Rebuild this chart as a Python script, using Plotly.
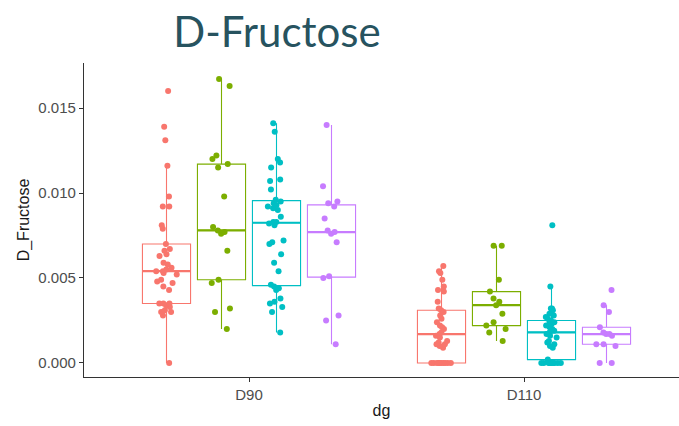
import numpy as np
import plotly.graph_objects as go

# x-axis categories (dg) and the four colour groups within each
days = ["D90", "D110"]
group_colors = ["#F8766D", "#7CAE00", "#00BFC4", "#C77CFF"]

# D_Fructose measurements, one list per day x group
d90_g1 = [0.0000, 0.0028, 0.0030, 0.0030, 0.0031, 0.0033, 0.0034, 0.0035, 0.0035,
          0.0035, 0.0043, 0.0045, 0.0047, 0.0048, 0.0049, 0.0052, 0.0053, 0.0054,
          0.0054, 0.0055, 0.0056, 0.0058, 0.0059, 0.0063, 0.0064, 0.0066, 0.0067,
          0.0070, 0.0079, 0.0081, 0.0092, 0.0092, 0.0098, 0.0116, 0.0131, 0.0139,
          0.0160]
d90_g2 = [0.0020, 0.0030, 0.0032, 0.0047, 0.0049, 0.0066, 0.0076, 0.0077, 0.0078,
          0.0080, 0.0098, 0.0115, 0.0117, 0.0120, 0.0122, 0.0163, 0.0167]
d90_g3 = [0.0018, 0.0030, 0.0033, 0.0035, 0.0036, 0.0038, 0.0043, 0.0044, 0.0045,
          0.0046, 0.0054, 0.0059, 0.0064, 0.0070, 0.0071, 0.0072, 0.0081, 0.0082,
          0.0083, 0.0083, 0.0086, 0.0090, 0.0091, 0.0092, 0.0093, 0.0094, 0.0095,
          0.0096, 0.0102, 0.0107, 0.0108, 0.0115, 0.0118, 0.0120, 0.0136, 0.0141]
d90_g4 = [0.0011, 0.0025, 0.0028, 0.0050, 0.0051, 0.0071, 0.0076, 0.0077, 0.0078,
          0.0085, 0.0092, 0.0094, 0.0095, 0.0104, 0.0140]

d110_g1 = [0.0000, 0.0000, 0.0000, 0.0000, 0.0000, 0.0000, 0.0000, 0.0000, 0.0000,
           0.0000, 0.0009, 0.0010, 0.0011, 0.0011, 0.0012, 0.0013, 0.0015, 0.0016,
           0.0017, 0.0018, 0.0020, 0.0021, 0.0022, 0.0024, 0.0026, 0.0028, 0.0030,
           0.0031, 0.0032, 0.0036, 0.0042, 0.0043, 0.0045, 0.0049, 0.0053, 0.0054,
           0.0057]
d110_g2 = [0.0013, 0.0018, 0.0020, 0.0022, 0.0024, 0.0029, 0.0034, 0.0036, 0.0038,
           0.0042, 0.0049, 0.0069, 0.0069]
d110_g3 = [0.0000, 0.0000, 0.0000, 0.0000, 0.0000, 0.0000, 0.0000, 0.0000, 0.0000,
           0.0002, 0.0009, 0.0010, 0.0011, 0.0012, 0.0013, 0.0015, 0.0016, 0.0017,
           0.0018, 0.0019, 0.0019, 0.0020, 0.0021, 0.0022, 0.0023, 0.0024, 0.0024,
           0.0025, 0.0026, 0.0027, 0.0028, 0.0029, 0.0031, 0.0032, 0.0032, 0.0045,
           0.0081]
d110_g4 = [0.0000, 0.0000, 0.0010, 0.0011, 0.0011, 0.0016, 0.0017, 0.0017, 0.0018,
           0.0021, 0.0030, 0.0034, 0.0043]

series = {
    "D90": [d90_g1, d90_g2, d90_g3, d90_g4],
    "D110": [d110_g1, d110_g2, d110_g3, d110_g4],
}

# dodge layout: four boxes per category
offsets = [-0.3, -0.1, 0.1, 0.3]
box_w = 0.175

fig = go.Figure()
for di, day in enumerate(days):
    for gi, vals in enumerate(series[day]):
        xpos = di + 1 + offsets[gi]
        col = group_colors[gi]
        fig.add_trace(go.Box(
            x=[xpos] * len(vals), y=vals, width=box_w,
            boxpoints="all", jitter=0.5, pointpos=0,
            quartilemethod="inclusive",
            fillcolor="white",
            line=dict(color=col, width=1.1),
            marker=dict(color=col, size=6, line=dict(width=0)),
            whiskerwidth=0, showlegend=False, hoverinfo="y",
        ))
        med = float(np.median(vals))
        fig.add_trace(go.Scatter(
            x=[xpos - box_w / 2, xpos + box_w / 2], y=[med, med],
            mode="lines", line=dict(color=col, width=2.2),
            showlegend=False, hoverinfo="skip",
        ))

base_font = "Liberation Sans, Arial, sans-serif"
tick_font = dict(family=base_font, size=15, color="#4D4D4D")
title_font = dict(family=base_font, size=16, color="#1A1A1A")

fig.update_layout(
    width=679, height=426,
    margin=dict(l=84, r=0, t=63, b=49),
    paper_bgcolor="white", plot_bgcolor="white",
    title=dict(text="D-Fructose", x=277 / 679, xanchor="center",
               y=1 - 32 / 426, yanchor="middle",
               font=dict(family="Lato, Open Sans, sans-serif", size=42, color="#27535F")),
    xaxis=dict(
        range=[0.4, 1 + (679 - 249) / 275], tickvals=[1, 2], ticktext=days,
        showline=True, linecolor="#333333", linewidth=1.2,
        ticks="outside", ticklen=4, tickcolor="#333333", tickwidth=1.1,
        showgrid=False, zeroline=False, tickfont=tick_font,
        title=dict(text="dg", font=title_font, standoff=2),
    ),
    yaxis=dict(
        range=[-0.000824, 0.017647], tickvals=[0, 0.005, 0.010, 0.015],
        ticktext=["0.000", "0.005", "0.010", "0.015"],
        showline=True, linecolor="#333333", linewidth=1.2,
        ticks="outside", ticklen=4, tickcolor="#333333", tickwidth=1.1,
        showgrid=False, zeroline=False, tickfont=tick_font,
        title=dict(text="D_Fructose", font=title_font, standoff=4),
    ),
)

fig.write_html("out.html")
